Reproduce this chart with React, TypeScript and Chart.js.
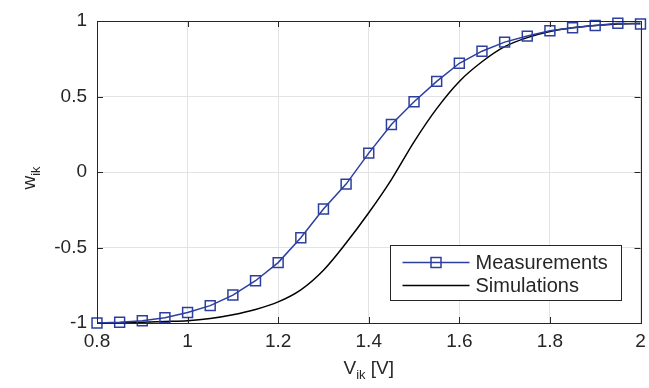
import { useEffect, useRef } from 'react';
import { Chart, registerables } from 'chart.js';

Chart.register(...registerables);

const xValues = [0.8, 0.85, 0.9, 0.95, 1.0, 1.05, 1.1, 1.15, 1.2, 1.25, 1.3, 1.35, 1.4, 1.45, 1.5, 1.55, 1.6, 1.65, 1.7, 1.75, 1.8, 1.85, 1.9, 1.95, 2.0];
const measurements = [-1.0, -0.995, -0.985, -0.965, -0.93, -0.885, -0.815, -0.72, -0.6, -0.435, -0.245, -0.08, 0.125, 0.315, 0.465, 0.6, 0.72, 0.8, 0.86, 0.9, 0.935, 0.955, 0.97, 0.985, 0.98];
const simulations = [-1.0, -0.998, -0.995, -0.99, -0.985, -0.97, -0.945, -0.91, -0.86, -0.78, -0.65, -0.47, -0.27, -0.05, 0.2, 0.42, 0.6, 0.73, 0.83, 0.89, 0.93, 0.955, 0.97, 0.98, 0.985];
const xTicks = [0.8, 1, 1.2, 1.4, 1.6, 1.8, 2];
const yTicks = [-1, -0.5, 0, 0.5, 1];
const seriesNames = ['Measurements', 'Simulations'];

const BLUE = '#2c3f9f';
const AXIS = '#262626';
const FONT = '"Liberation Sans", Arial, sans-serif';

const decorPlugin = {
  id: 'decor',
  afterDraw(chart: any) {
    const { ctx, chartArea: ca } = chart;
    ctx.save();
    // box
    ctx.strokeStyle = AXIS;
    ctx.lineWidth = 1;
    ctx.strokeRect(Math.round(ca.left) + 0.5, Math.round(ca.top) + 0.5, Math.round(ca.right - ca.left), Math.round(ca.bottom - ca.top));
    // inward ticks
    const xs = chart.scales.x;
    const ys = chart.scales.y;
    const tl = 6;
    ctx.beginPath();
    xTicks.forEach((v) => {
      const px = Math.round(xs.getPixelForValue(v)) + 0.5;
      ctx.moveTo(px, ca.bottom);
      ctx.lineTo(px, ca.bottom - tl);
      ctx.moveTo(px, ca.top);
      ctx.lineTo(px, ca.top + tl);
    });
    yTicks.forEach((v) => {
      const py = Math.round(ys.getPixelForValue(v)) + 0.5;
      ctx.moveTo(ca.left, py);
      ctx.lineTo(ca.left + tl, py);
      ctx.moveTo(ca.right, py);
      ctx.lineTo(ca.right - tl, py);
    });
    ctx.stroke();

    // axis titles
    ctx.fillStyle = AXIS;
    ctx.textBaseline = 'alphabetic';
    ctx.textAlign = 'left';
    const cx = (ca.left + ca.right) / 2;
    const big = `19px ${FONT}`;
    const small = `13px ${FONT}`;
    ctx.font = big;
    const wV = ctx.measureText('V').width;
    const wRest = ctx.measureText(' [V]').width;
    ctx.font = small;
    const wSub = ctx.measureText('ik').width;
    const total = wV + wSub + wRest;
    const x0 = cx - total / 2;
    const by = 374;
    ctx.font = big;
    ctx.fillText('V', x0, by);
    ctx.font = small;
    ctx.fillText('ik', x0 + wV, by + 5);
    ctx.font = big;
    ctx.fillText(' [V]', x0 + wV + wSub, by);

    ctx.save();
    ctx.translate(35, (ca.top + ca.bottom) / 2);
    ctx.rotate(-Math.PI / 2);
    ctx.font = big;
    const ww = ctx.measureText('w').width;
    ctx.font = small;
    const wik = ctx.measureText('ik').width;
    const t0 = -(ww + wik) / 2 - 6;
    ctx.font = big;
    ctx.fillText('w', t0, 0);
    ctx.font = small;
    ctx.fillText('ik', t0 + ww, 5);
    ctx.restore();

    // legend
    const lx = ca.right - 20;
    const ly = ca.bottom - 23;
    const lw = 231;
    const lh = 55;
    const left = Math.round(lx - lw) + 0.5;
    const top = Math.round(ly - lh) + 0.5;
    ctx.fillStyle = '#ffffff';
    ctx.fillRect(left, top, lw, lh);
    ctx.strokeStyle = AXIS;
    ctx.lineWidth = 1;
    ctx.strokeRect(left, top, lw, lh);
    const r1 = top + 17;
    const r2 = top + 40;
    const sx0 = left + 12;
    const sx1 = left + 79;
    ctx.strokeStyle = BLUE;
    ctx.lineWidth = 1.5;
    ctx.beginPath();
    ctx.moveTo(sx0, r1);
    ctx.lineTo(sx1, r1);
    ctx.stroke();
    const mc = (sx0 + sx1) / 2;
    ctx.strokeRect(mc - 5, r1 - 5, 10, 10);
    ctx.strokeStyle = '#000000';
    ctx.beginPath();
    ctx.moveTo(sx0, r2);
    ctx.lineTo(sx1, r2);
    ctx.stroke();
    ctx.fillStyle = AXIS;
    ctx.font = `20px ${FONT}`;
    ctx.textBaseline = 'middle';
    ctx.fillText(seriesNames[0], left + 85, r1 + 1);
    ctx.fillText(seriesNames[1], left + 85, r2 + 1);
    ctx.restore();
  },
};

export default function App() {
  const ref = useRef<HTMLCanvasElement | null>(null);
  useEffect(() => {
    document.body.style.margin = '0';
    const canvas = ref.current;
    if (!canvas) return;
    const chart = new Chart(canvas, {
      type: 'line',
      data: {
        datasets: [
          {
            label: seriesNames[0],
            data: xValues.map((x, i) => ({ x, y: measurements[i] })),
            borderColor: BLUE,
            borderWidth: 1.5,
            backgroundColor: 'rgba(0,0,0,0)',
            pointStyle: 'rect',
            pointRadius: 7,
            pointBorderWidth: 1.5,
            pointBorderColor: BLUE,
            pointBackgroundColor: 'rgba(0,0,0,0)',
            tension: 0,
            clip: false,
            order: 1,
          },
          {
            label: seriesNames[1],
            data: xValues.map((x, i) => ({ x, y: simulations[i] })),
            borderColor: '#000000',
            borderWidth: 1.5,
            backgroundColor: 'rgba(0,0,0,0)',
            pointRadius: 0,
            cubicInterpolationMode: 'monotone',
            order: 2,
          },
        ],
      },
      options: {
        animation: false,
        responsive: true,
        maintainAspectRatio: false,
        layout: { padding: { left: 0, right: 7, top: 21, bottom: 0 } },
        plugins: { legend: { display: false }, tooltip: { enabled: false } },
        scales: {
          x: {
            type: 'linear',
            min: 0.8,
            max: 2,
            afterBuildTicks: (s: any) => {
              s.ticks = xTicks.map((v) => ({ value: v }));
            },
            afterFit: (s: any) => {
              s.height = 65;
              s.paddingRight = 0;
              s.paddingLeft = 0;
            },
            grid: { color: '#e3e3e3', lineWidth: 1, drawTicks: false },
            border: { display: false },
            ticks: {
              padding: 7,
              color: AXIS,
              font: { family: FONT, size: 19 },
              maxRotation: 0,
              callback: (v: any) => String(v),
            },
          },
          y: {
            type: 'linear',
            min: -1,
            max: 1,
            afterBuildTicks: (s: any) => {
              s.ticks = yTicks.map((v) => ({ value: v }));
            },
            afterFit: (s: any) => {
              s.width = 97;
              s.paddingTop = 0;
              s.paddingBottom = 0;
            },
            grid: { color: '#e3e3e3', lineWidth: 1, drawTicks: false },
            border: { display: false },
            ticks: {
              padding: 10,
              color: AXIS,
              font: { family: FONT, size: 19 },
              callback: (v: any) => String(v),
            },
          },
        },
      },
      plugins: [decorPlugin],
    });
    return () => chart.destroy();
  }, []);
  return (
    <div style={{ position: 'fixed', left: 0, top: 0, width: 649, height: 388, background: '#fff' }}>
      <canvas ref={ref} />
    </div>
  );
}
